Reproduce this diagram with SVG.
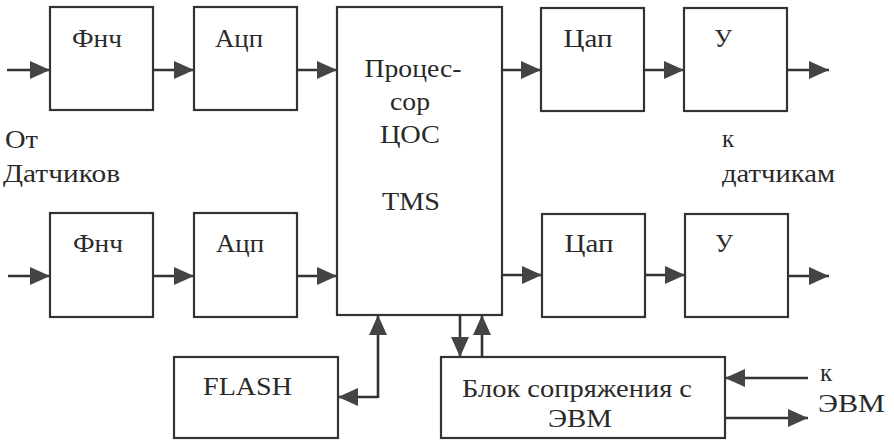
<svg xmlns="http://www.w3.org/2000/svg" width="894" height="442" viewBox="0 0 894 442">
<style>
.box{fill:#fff;stroke:#333;stroke-width:2.2}
text{font-family:"Liberation Serif","Times New Roman","DejaVu Serif",serif;font-size:25px;fill:#2a2a2a}
.t{text-anchor:middle}
.c{fill:none;stroke:#333;stroke-width:2.6}
</style>
<defs>
<marker id="ah" markerUnits="userSpaceOnUse" markerWidth="20" markerHeight="18" refX="20" refY="9" orient="auto">
<path d="M0,0 L20,9 L0,18 z" fill="#444"/>
</marker>
</defs>
<rect width="894" height="442" fill="#fff"/>
<g id="fnch1"><rect class="box" x="50" y="7" width="103" height="103"/><text class="t" x="97" y="47" textLength="50" lengthAdjust="spacingAndGlyphs">Фнч</text></g>
<g id="acp1"><rect class="box" x="194" y="7" width="103" height="103"/><text class="t" x="239" y="47" textLength="48" lengthAdjust="spacingAndGlyphs">Ацп</text></g>
<g id="proc"><rect class="box" x="337" y="7" width="165" height="308"/>
<text class="t" x="413" y="77" textLength="97" lengthAdjust="spacingAndGlyphs">Процес-</text>
<text class="t" x="410" y="110" textLength="40" lengthAdjust="spacingAndGlyphs">сор</text>
<text class="t" x="410" y="143" textLength="60" lengthAdjust="spacingAndGlyphs">ЦОС</text>
<text class="t" x="411" y="210" textLength="58" lengthAdjust="spacingAndGlyphs">TMS</text></g>
<g id="cap1"><rect class="box" x="541" y="8" width="103" height="103"/><text class="t" x="588" y="47" textLength="49" lengthAdjust="spacingAndGlyphs">Цап</text></g>
<g id="u1"><rect class="box" x="684" y="8" width="103" height="103"/><text class="t" x="723" y="47">У</text></g>
<g id="fnch2"><rect class="box" x="50" y="213" width="103" height="104"/><text class="t" x="98" y="252" textLength="50" lengthAdjust="spacingAndGlyphs">Фнч</text></g>
<g id="acp2"><rect class="box" x="194" y="213" width="103" height="104"/><text class="t" x="240" y="252" textLength="48" lengthAdjust="spacingAndGlyphs">Ацп</text></g>
<g id="cap2"><rect class="box" x="542" y="214" width="103" height="103"/><text class="t" x="589" y="252" textLength="49" lengthAdjust="spacingAndGlyphs">Цап</text></g>
<g id="u2"><rect class="box" x="685" y="214" width="103" height="103"/><text class="t" x="724" y="252">У</text></g>
<g id="flash"><rect class="box" x="174" y="357" width="164" height="81"/><text x="203" y="395" textLength="89" lengthAdjust="spacingAndGlyphs">FLASH</text></g>
<g id="interface"><rect class="box" x="441" y="357" width="284" height="81"/><text x="462" y="397" textLength="230" lengthAdjust="spacingAndGlyphs">Блок сопряжения с</text><text x="548" y="427" textLength="64" lengthAdjust="spacingAndGlyphs">ЭВМ</text></g>
<g id="labels">
<text x="5" y="148" textLength="33" lengthAdjust="spacingAndGlyphs">От</text>
<text x="3" y="182" textLength="117" lengthAdjust="spacingAndGlyphs">Датчиков</text>
<text x="722" y="147">к</text>
<text x="722" y="182" textLength="113" lengthAdjust="spacingAndGlyphs">датчикам</text>
<text x="820" y="381">к</text>
<text x="818" y="412" textLength="67" lengthAdjust="spacingAndGlyphs">ЭВМ</text>
</g>
<g id="connectors">
<line class="c" x1="7" y1="70" x2="50" y2="70" marker-end="url(#ah)"/>
<line class="c" x1="153" y1="70" x2="194" y2="70" marker-end="url(#ah)"/>
<line class="c" x1="297" y1="70" x2="337" y2="70" marker-end="url(#ah)"/>
<line class="c" x1="502" y1="70" x2="541" y2="70" marker-end="url(#ah)"/>
<line class="c" x1="644" y1="70" x2="684" y2="70" marker-end="url(#ah)"/>
<line class="c" x1="787" y1="70" x2="829" y2="70" marker-end="url(#ah)"/>
<line class="c" x1="8" y1="276" x2="50" y2="276" marker-end="url(#ah)"/>
<line class="c" x1="153" y1="276" x2="194" y2="276" marker-end="url(#ah)"/>
<line class="c" x1="297" y1="276" x2="337" y2="276" marker-end="url(#ah)"/>
<line class="c" x1="502" y1="275" x2="542" y2="275" marker-end="url(#ah)"/>
<line class="c" x1="645" y1="275" x2="685" y2="275" marker-end="url(#ah)"/>
<line class="c" x1="788" y1="276" x2="829" y2="276" marker-end="url(#ah)"/>
<polyline class="c" points="378,398 378,315" marker-end="url(#ah)"/>
<polyline class="c" points="378,397 338,397" marker-end="url(#ah)"/>
<line class="c" x1="460" y1="315" x2="460" y2="357" marker-end="url(#ah)"/>
<line class="c" x1="482" y1="357" x2="482" y2="315" marker-end="url(#ah)"/>
<line class="c" x1="808" y1="378" x2="725" y2="378" marker-end="url(#ah)"/>
<line class="c" x1="725" y1="418" x2="808" y2="418" marker-end="url(#ah)"/>
</g>
</svg>
